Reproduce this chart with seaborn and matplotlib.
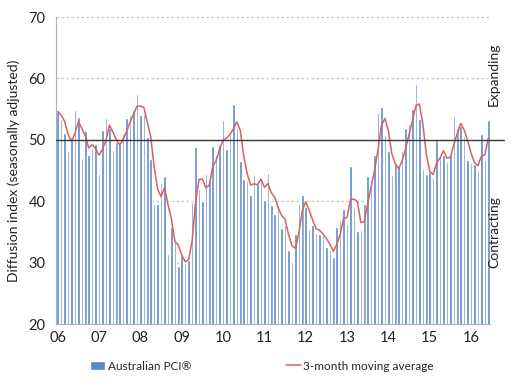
import numpy as np
import pandas as pd
import matplotlib
matplotlib.use("Agg")
import matplotlib.pyplot as plt
import seaborn as sns

# Australian PCI, monthly, Jan 2006 - Jun 2016
pci_2006 = [54.6, 53.4, 51.1, 48.1, 50.2, 54.9, 53.7, 47.0, 51.4, 47.6, 48.7, 49.3]
pci_2007 = [44.5, 51.6, 53.6, 52.0, 48.3, 49.7, 49.5, 51.0, 53.6, 54.0, 54.9, 57.5]
pci_2008 = [54.1, 54.2, 50.4, 46.8, 39.6, 39.6, 43.0, 44.1, 31.4, 35.8, 33.3, 29.4]
pci_2009 = [31.1, 29.9, 30.5, 39.8, 48.8, 42.0, 40.1, 44.4, 43.4, 49.0, 47.5, 49.1]
pci_2010 = [53.2, 48.5, 50.9, 55.9, 52.0, 46.6, 43.6, 43.3, 41.0, 44.2, 42.8, 43.8]
pci_2011 = [40.2, 44.6, 39.4, 37.9, 39.5, 35.6, 36.1, 32.1, 30.1, 34.7, 39.6, 41.0]
pci_2012 = [39.1, 35.5, 36.2, 34.9, 34.7, 34.5, 32.5, 32.1, 30.9, 35.8, 37.0, 38.8]
pci_2013 = [36.3, 45.7, 39.0, 35.2, 35.3, 39.5, 44.1, 43.5, 47.6, 54.3, 55.3, 50.8]
pci_2014 = [48.2, 44.2, 46.0, 45.7, 48.1, 51.9, 52.6, 55.0, 59.1, 53.4, 45.3, 44.4]
pci_2015 = [44.8, 43.9, 50.0, 47.2, 47.5, 46.4, 47.5, 53.8, 51.9, 52.3, 50.6, 46.7]
pci_2016 = [46.2, 46.0, 45.1, 50.9, 46.7, 53.2]

year_labels = ["06", "07", "08", "09", "10", "11", "12", "13", "14", "15", "16"]

pci = (pci_2006 + pci_2007 + pci_2008 + pci_2009 + pci_2010 + pci_2011
       + pci_2012 + pci_2013 + pci_2014 + pci_2015 + pci_2016)
df = pd.DataFrame({"month": np.arange(len(pci)), "pci": pci})
df["ma3"] = df["pci"].rolling(3, min_periods=1).mean()

sns.set_style("white")
plt.rcParams["font.family"] = ["Lato", "DejaVu Sans"]

fig = plt.figure(figsize=(5.16, 3.91), dpi=100)
ax = fig.add_axes([56 / 516, 1 - 324 / 391, 434 / 516, 307 / 391])

sns.barplot(data=df, x="month", y="pci", color="#5B88CB", saturation=1,
            width=0.74, ax=ax, label="Australian PCI\u00ae", zorder=2)
sns.lineplot(x=df["month"], y=df["ma3"], color="#D4625F", lw=1.1, ax=ax,
             label="3-month moving average", zorder=3)

ax.set_xlim(-0.5, len(pci) - 0.5)
ax.set_ylim(20, 70)
ax.set_yticks(range(20, 71, 10))
ax.yaxis.grid(True, linestyle=(0, (2, 2)), color="#c4c4c4", lw=0.9, zorder=0)
ax.set_axisbelow(True)
ax.axhline(50, color="#3a3a3a", lw=1.0, xmin=0, xmax=1.033, clip_on=False, zorder=4)

# tick marks between years, labels on January bars
ax.set_xticks(np.arange(-0.5, len(pci), 12))
ax.set_xticklabels([])
ax.set_xticks(np.arange(0, len(pci), 12), labels=year_labels, minor=True)
ax.tick_params(axis="x", which="major", length=4, color="#b0b0b0", direction="out")
ax.tick_params(axis="x", which="minor", length=0, labelsize=10.5, pad=5, labelcolor="#222222")
ax.tick_params(axis="y", length=4, color="#b0b0b0", labelsize=10.5, labelcolor="#222222")

ax.set_xlabel("")
ax.set_ylabel("Diffusion index (seasonally adjusted)", fontsize=10, color="#222222", labelpad=6)

sns.despine(ax=ax)
for side in ["left", "bottom"]:
    ax.spines[side].set_color("#b0b0b0")

fig.text(494 / 516, 1 - 74 / 391, "Expanding", rotation=90, ha="center", va="center",
         fontsize=10, color="#222222")
fig.text(494 / 516, 1 - 232 / 391, "Contracting", rotation=90, ha="center", va="center",
         fontsize=10, color="#222222")

handles, labels = ax.get_legend_handles_labels()
if ax.legend_:
    ax.legend_.remove()
order = [labels.index("Australian PCI\u00ae"), labels.index("3-month moving average")]
fig.legend([handles[i] for i in order], [labels[i] for i in order], loc="center",
           bbox_to_anchor=(262 / 516, 1 - 366 / 391), ncol=2, frameon=False,
           fontsize=8.5, handlelength=1.3, handletextpad=0.2, columnspacing=8.0)

fig.savefig("out.png", dpi=100)
